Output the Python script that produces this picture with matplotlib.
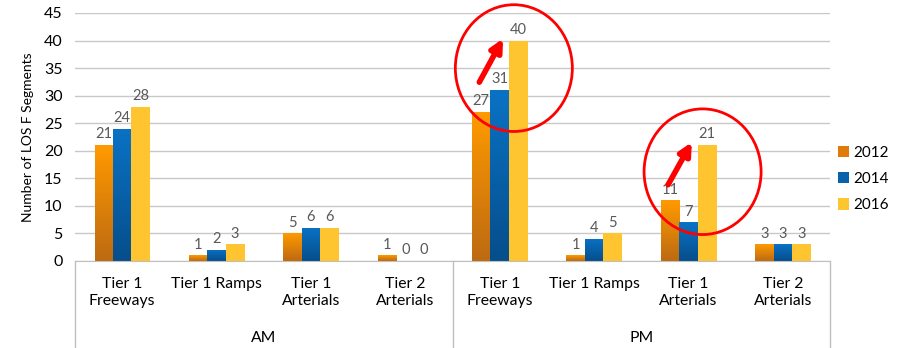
import numpy as np
import matplotlib.pyplot as plt
from matplotlib.patches import Ellipse, Patch
from matplotlib.colors import LinearSegmentedColormap

plt.rcParams['font.family'] = ['Lato', 'DejaVu Sans']

categories = ['Tier 1\nFreeways', 'Tier 1 Ramps', 'Tier 1\nArterials', 'Tier 2\nArterials']
periods = ['AM', 'PM']
years = ['2012', '2014', '2016']
v2012 = [21, 1, 5, 1, 27, 1, 11, 3]
v2014 = [24, 2, 6, 0, 31, 4, 7, 3]
v2016 = [28, 3, 6, 0, 40, 5, 21, 3]

# top colour, bottom colour per series
grads = [('#FF9A00', '#BD6A12'), ('#0A72C4', '#064E8C'), ('#FFC530', '#FFC530')]
legend_colors = ['#E07A08', '#0862AA', '#FFC530']

fig = plt.figure(figsize=(9.01, 3.48), dpi=100)
ax = fig.add_axes([75 / 901, 87 / 348, 755 / 901, 248 / 348])

n = len(v2012)
x = np.arange(n)
w = 0.195

for i, (vals, (ctop, cbot)) in enumerate(zip([v2012, v2014, v2016], grads)):
    cmap = LinearSegmentedColormap.from_list('g%d' % i, [cbot, ctop])
    bars = ax.bar(x + (i - 1) * w, vals, w, color='none', zorder=2)
    for b, v in zip(bars, vals):
        if v > 0:
            x0, x1 = b.get_x(), b.get_x() + b.get_width()
            im = ax.imshow(np.linspace(0, 1, 64).reshape(-1, 1), cmap=cmap, origin='lower',
                           extent=[x0, x1, 0, v], aspect='auto', zorder=2)
            im.set_clip_path(b)
        ax.text(b.get_x() + b.get_width() / 2, v + 0.7, str(v), ha='center', va='bottom',
                fontsize=10.5, color='#595959', zorder=3)

ax.set_aspect('auto')
ax.set_xlim(-0.5, n - 0.5)
ax.set_ylim(0, 45)
ax.set_yticks(range(0, 46, 5))
ax.tick_params(axis='y', length=0, labelsize=11.5, colors='#000000', pad=9)
ax.yaxis.grid(True, color='#C8C8C8', linewidth=1)
ax.set_axisbelow(True)
for s in ['top', 'right', 'left']:
    ax.spines[s].set_visible(False)
ax.spines['bottom'].set_color('#BFBFBF')
ax.set_xticks([])
ax.set_ylabel('Number of LOS F Segments', fontsize=10, labelpad=7)

# category axis labels
for i in range(n):
    ax.text(x[i], -2.9, categories[i % 4], ha='center', va='top', fontsize=11.3,
            linespacing=1.3)
for j, p in enumerate(periods):
    ax.text(j * 4 + 1.5, -13.9, p, ha='center', va='center', fontsize=11.3)
for xs in [-0.5, 3.5, 7.5]:
    ax.plot([xs, xs], [0, -16], color='#BFBFBF', lw=1, clip_on=False)

# highlight circles and arrows
ax.add_patch(Ellipse((4.15, 35.0), 1.24, 23.0, fill=False, ec='#FF0000', lw=2,
                     clip_on=False, zorder=4))
ax.add_patch(Ellipse((6.15, 16.2), 1.24, 22.8, fill=False, ec='#FF0000', lw=2,
                     clip_on=False, zorder=4))
ax.annotate('', xy=(4.05, 40.8), xytext=(3.77, 32.0),
            arrowprops=dict(arrowstyle='-|>', color='#FF0000', lw=4, mutation_scale=18),
            zorder=4)
ax.annotate('', xy=(6.05, 22.0), xytext=(5.77, 13.4),
            arrowprops=dict(arrowstyle='-|>', color='#FF0000', lw=4, mutation_scale=18),
            zorder=4)

handles = [Patch(facecolor=c, edgecolor='none', label=y) for c, y in zip(legend_colors, years)]
ax.legend(handles=handles, loc='center left', bbox_to_anchor=(1.0, 0.33), frameon=False,
          fontsize=11, handlelength=0.75, handleheight=0.75, handletextpad=0.25,
          labelspacing=0.8, borderaxespad=0.3, borderpad=0.2)

fig.savefig('out.png', dpi=100)
